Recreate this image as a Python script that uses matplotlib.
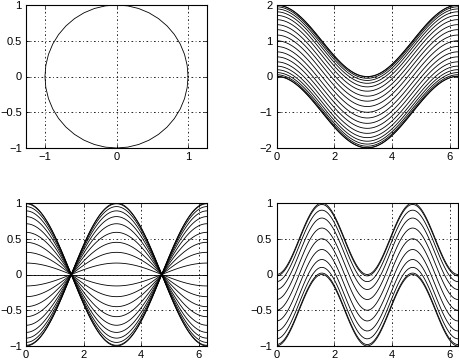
import numpy as np
import matplotlib
matplotlib.use("Agg")
import matplotlib.pyplot as plt

plt.rcParams['font.family'] = ['Liberation Sans', 'DejaVu Sans']
plt.rcParams['font.size'] = 8

# ---- data ----
circle_points = 41
# top-right: vertical offsets of cos curves (bunched at the ends)
offsets_tr = [-1.0, -0.99, -0.95, -0.89, -0.81, -0.71, -0.59, -0.45, -0.31, -0.16, 0.0,
              0.16, 0.31, 0.45, 0.59, 0.71, 0.81, 0.89, 0.95, 0.99, 1.0]
# bottom-left: amplitudes of cos curves
amps_bl = [-1.0, -0.99, -0.95, -0.89, -0.81, -0.71, -0.59, -0.45, -0.31, -0.16, 0.0,
           0.16, 0.31, 0.45, 0.59, 0.71, 0.81, 0.89, 0.95, 0.99, 1.0]
# bottom-right: vertical offsets of sin^2 curves
offsets_br = [0.0, -0.02, -0.10, -0.21, -0.35, -0.50, -0.65, -0.79, -0.90, -0.98, -1.0]

xticks_wave = [0, 2, 4, 6]
yticks_pm1 = [-1, -0.5, 0, 0.5, 1]
yticks_pm2 = [-2, -1, 0, 1, 2]

fig = plt.figure(figsize=(4.59, 3.6), dpi=100)
W, H = 459, 360

def make_ax(l, t, r, b):
    return fig.add_axes([l / W, 1 - b / H, (r - l) / W, (b - t) / H])

ax1 = make_ax(26, 5, 207, 148)
ax2 = make_ax(276.5, 5, 458, 148)
ax3 = make_ax(26, 203, 207, 346)
ax4 = make_ax(276.5, 203, 458, 346)

lw = 0.6
x = np.linspace(0, 2 * np.pi, 120)

t = np.linspace(0, 2 * np.pi, circle_points)
ax1.plot(np.cos(t), np.sin(t), color='black', lw=lw)
ax1.set_xlim(-1.265, 1.265)
ax1.set_ylim(-1, 1)
ax1.set_xticks([-1, 0, 1])
ax1.set_yticks(yticks_pm1)
ax1.set_yticklabels(['\u22121', '\u22120.5', '0', '0.5', '1'])

for c in offsets_tr:
    ax2.plot(x, np.cos(x) + c, color='black', lw=lw)
ax2.set_xlim(0, 2 * np.pi)
ax2.set_ylim(-2, 2)
ax2.set_xticks(xticks_wave)
ax2.set_yticks(yticks_pm2)

for a in amps_bl:
    ax3.plot(x, a * np.cos(x), color='black', lw=lw)
ax3.set_xlim(0, 2 * np.pi)
ax3.set_ylim(-1, 1)
ax3.set_xticks(xticks_wave)
ax3.set_yticks(yticks_pm1)
ax3.set_yticklabels(['\u22121', '\u22120.5', '0', '0.5', '1'])

for c in offsets_br:
    ax4.plot(x, np.sin(x) ** 2 + c, color='black', lw=lw)
ax4.set_xlim(0, 2 * np.pi)
ax4.set_ylim(-1, 1)
ax4.set_xticks(xticks_wave)
ax4.set_yticks(yticks_pm1)
ax4.set_yticklabels(['\u22121', '\u22120.5', '0', '0.5', '1'])

for ax in (ax1, ax2, ax3, ax4):
    ax.grid(True, color='black', linestyle=(0, (2, 3, 1, 3)), linewidth=0.6)
    ax.set_axisbelow(True)
    ax.tick_params(direction='in', length=3, width=0.5, pad=3, labelsize=8,
                   top=True, right=True)
    for s in ax.spines.values():
        s.set_linewidth(0.8)
        s.set_color('black')

fig.savefig('out.png', dpi=100)
